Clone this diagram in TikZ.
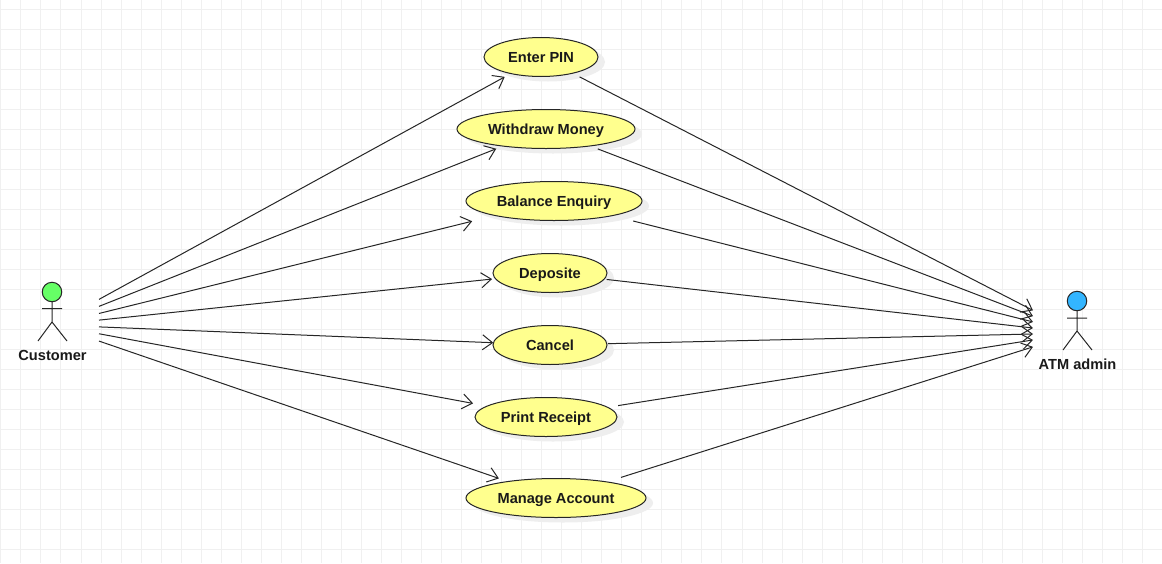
\documentclass[tikz,border=0pt]{standalone}
\usepackage{fontspec}
\setmainfont{Liberation Sans}
\usetikzlibrary{arrows.meta,shapes.geometric}
\definecolor{gridc}{RGB}{240,240,240}
\definecolor{usefill}{RGB}{255,255,142}
\definecolor{castc}{RGB}{238,238,238}
\definecolor{green1}{RGB}{102,255,102}
\definecolor{blue1}{RGB}{51,181,255}
\tikzset{
  usecase/.style={ellipse, draw=black!85, line width=1pt, fill=usefill, inner sep=0pt, outer sep=5pt, minimum height=39pt},
  lbl/.style={font=\fontsize{14.6}{16}\bfseries\selectfont, text=black!90, inner sep=0pt, anchor=base},
  hit/.style={rectangle, draw=none, minimum height=90pt, inner sep=0pt, outer sep=0pt},
  flow/.style={line width=1pt, draw=black!85, -{Straight Barb[length=10pt,width=15pt,line width=1pt]}},
  limb/.style={line width=1pt, draw=black!85},
  head/.style={circle, draw=black!85, line width=1pt, inner sep=0pt, minimum size=19.5pt}
}
\newcommand{\usecasenode}[5]{% name, x, y, a, text
  \fill[castc] (#2+7,#3+5) ellipse [x radius=#4, y radius=19.5];
  \node[usecase, minimum width=2*#4 pt] (#1) at (#2,#3) {};
  \node[lbl] at (#2,#3+5) {#5};
}
\begin{document}
\begin{tikzpicture}[x=1pt,y=-1pt]
\useasboundingbox (0,0) rectangle (1162,563);
\fill[white] (0,0) rectangle (1162,563);
\foreach \i in {0,...,58} \draw[gridc,line width=0.8pt] ({0.8+20.03*\i},0) -- ({0.8+20.03*\i},563);
\foreach \i in {0,...,28} \draw[gridc,line width=0.8pt] (0,{9.5+20*\i}) -- (1162,{9.5+20*\i});

\usecasenode{e1}{541}{57}{57}{Enter PIN}
\usecasenode{e2}{546}{129}{89}{Withdraw Money}
\usecasenode{e3}{554}{201}{88}{Balance Enquiry}
\usecasenode{e4}{550}{273}{57}{Deposite}
\usecasenode{e5}{550}{345}{57}{Cancel}
\usecasenode{e6}{546}{417}{71}{Print Receipt}
\usecasenode{e7}{556}{498}{90}{Manage Account}

% Customer
\node[hit, minimum width=94pt] (cust) at (52,325) {};
\draw[limb] (52,302) -- (52,322) (42,308.5) -- (62,308.5) (38,341) -- (52,322) -- (67,341);
\node[head, fill=green1] (custhead) at (52,292) {};
\node[lbl] (custlbl) at (52.5,360) {Customer};

% ATM admin
\node[hit, minimum width=88pt] (admin) at (1077,333) {};
\draw[limb] (1077,311) -- (1077,331) (1067,318) -- (1087,318) (1063,350) -- (1077,331) -- (1092,350);
\node[head, fill=blue1] (adminhead) at (1077,301) {};
\node[lbl] (adminlbl) at (1077.5,369) {ATM admin};

\foreach \e/\l/\r in {e1/0/1,e2/-2/-1,e3/14.4/12.4,e4/-2/-3,e5/-5/-4,e6/7.2/4,e7/0/5.3} {
  \draw[flow, shorten >=\l pt] (cust) -- (\e);
  \draw[flow, shorten <=\r pt] (\e) -- (admin);
}
\end{tikzpicture}
\end{document}
